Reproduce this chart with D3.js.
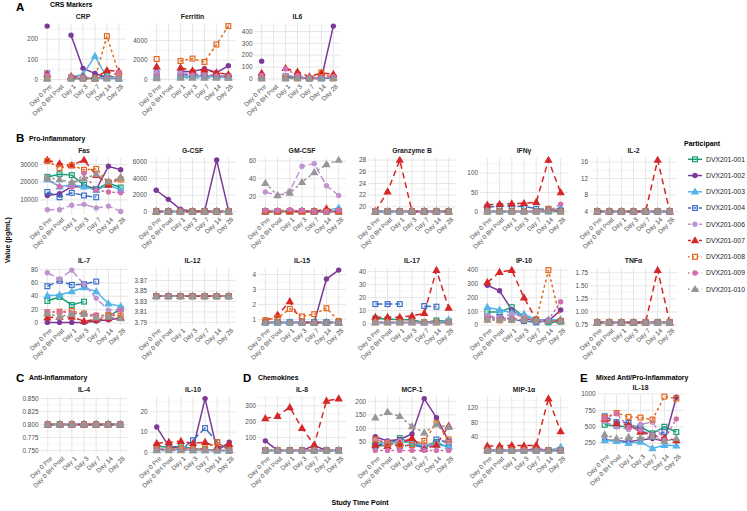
<!DOCTYPE html>
<html><head><meta charset="utf-8">
<script src="https://cdn.jsdelivr.net/npm/d3@7"></script>
<style>body{margin:0;background:#fff;} svg{display:block;font-family:"Liberation Sans",Arial,Helvetica,sans-serif;}</style>
</head><body><svg id="c" width="747" height="511"></svg>
<script>
const N = null;
const timepoints = ["Day 0 Pre","Day 0 8H Post","Day 1","Day 3","Day 7","Day 14","Day 28"];
const participants = ["DVX201-001","DVX201-002","DVX201-003","DVX201-004","DVX201-006","DVX201-007","DVX201-008","DVX201-009","DVX201-010"];

// values: one row per participant (order as above), one column per time point
const crp = [
 [5,N,5,5,5,20,5],[265,N,220,55,30,8,8],[5,N,12,25,115,10,5],[30,N,5,5,5,5,5],[30,N,10,10,8,8,8],
 [25,N,15,12,5,45,40],[5,N,10,5,5,215,30],[20,N,15,10,5,10,35],[5,N,5,5,5,5,5]];
const ferritin = [
 [200,N,250,300,350,300,200],[800,N,800,800,1100,700,1400],[300,N,300,300,300,250,200],[600,N,500,500,500,400,300],[700,N,700,600,500,400,300],
 [1300,N,1200,900,1000,700,500],[2100,N,1900,2150,1800,3600,5500],[400,N,400,450,400,350,300],[100,N,150,150,150,150,150]];
const il6 = [
 [10,N,10,10,5,10,10],[150,N,30,10,5,5,445],[20,N,20,15,10,10,10],[20,N,25,15,5,5,10],[30,N,30,20,10,10,20],
 [50,N,90,60,20,50,40],[5,N,5,5,5,55,5],[30,N,85,30,10,10,20],[5,N,5,5,5,5,5]];
const fas = [
 [23000,24500,24000,18500,16000,19500,17000],[12500,13500,17500,17500,16000,29000,27000],[21500,17500,18500,17500,15500,18500,15500],
 [14500,11500,14000,12500,11500,N,N],[4500,4500,7000,7500,5500,6500,3500],[32500,30500,29500,32500,24000,18500,22500],
 [32000,28000,29500,27000,27500,20000,21500],[22000,17500,17500,25000,15500,14500,14000],[22500,21500,20000,22000,24500,20500,22500]];
const gcsf = [
 [40,40,40,40,40,40,40],[2600,1500,300,50,50,6250,50],[40,40,40,40,40,40,40],[40,40,40,40,40,40,40],[40,40,40,40,40,40,40],
 [40,40,40,40,40,40,40],[40,40,40,40,40,40,40],[40,40,40,40,40,40,40],[40,40,40,40,40,40,40]];
const gmcsf = [
 [3,3,3,3,3,3,3],[3,3,3,3,3,3,3],[3,3,3,4,3,4,7],[3,3,3,3,3,3,3],[25,21,26,54,57,32,21],
 [3,3,3,3,3,6,3],[3,3,3,3,3,3,3],[4,4,5,4,3,3,4],[35,21,24,36,47,56,61]];
const granzymeB = [
 [19.2,19.2,19.2,19.2,19.2,19.2,19.2],[19.2,19.2,19.2,19.2,19.2,19.2,19.2],[19.2,19.2,19.2,19.2,19.2,19.2,19.2],
 [19.2,19.2,19.2,19.2,19.2,19.2,19.2],[19.2,19.2,19.2,19.2,19.2,19.2,19.2],[19.2,22.6,28,19.2,19.2,19.2,19.2],
 [19.2,19.2,19.2,19.2,19.2,19.2,19.2],[19.2,19.2,19.2,19.2,19.2,19.2,19.2],[19.2,19.2,19.2,19.2,19.2,19.2,19.2]];
const ifng = [
 [1,1,1,1,1,1,1],[1,1,1,1,1,1,3],[1,1,1,1,1,3,10],[12,15,15,14,8,6,3],[1,1,1,1,1,1,1],
 [18,20,21,22,25,134,50],[1,1,1,1,1,8,1],[1,1,1,1,1,1,20],[1,1,1,1,1,1,1]];
const il2 = [
 [4,4,4,4,4,4,4],[4,4,4,4,4,4,4],[4,4,4,4,4,4,4],[4,4,4,4,4,4,4],[4,4,4,4,4,4,4],
 [4,4,4,4,4,16.5,4],[4,4,4,4,4,4,4],[4,4,4,4,4,4,4],[4,4,4,4,4,4,4]];
const il7 = [
 [33,39,27,32,N,10,21],[1,1,1,1,3,5,7],[41,42,47,53,47,29,25],[55,63,57,58,62,N,N],[75,66,79,58,37,19,20],
 [8,9,9,3,5,7,8],[16,17,18,14,11,12,11],[17,17,15,14,12,10,19],[14,10,13,14,8,9,7]];
const il12 = [
 [3.84,3.84,3.84,3.84,3.84,3.84,3.84],[3.84,3.84,3.84,3.84,3.84,3.84,3.84],[3.84,3.84,3.84,3.84,3.84,3.84,3.84],
 [3.84,3.84,3.84,3.84,3.84,3.84,3.84],[3.84,3.84,3.84,3.84,3.84,3.84,3.84],[3.84,3.84,3.84,3.84,3.84,3.84,3.84],
 [3.84,3.84,3.84,3.84,3.84,3.84,3.84],[3.84,3.84,3.84,3.84,3.84,3.84,3.84],[3.84,3.84,3.84,3.84,3.84,3.84,3.84]];
const il15 = [
 [0.8,0.8,0.8,0.8,0.8,0.8,0.8],[0.8,0.8,0.8,0.8,0.8,3.7,4.3],[0.8,0.8,0.8,0.8,0.8,0.8,0.8],[0.8,0.8,0.8,0.8,0.8,0.8,0.8],
 [0.8,0.8,0.8,0.8,0.8,0.8,0.8],[0.9,1.3,2.2,0.8,0.8,0.8,0.8],[0.95,1.1,1.7,1.2,1.35,1.75,0.9],[0.8,0.8,0.8,0.8,0.8,0.8,0.8],
 [0.8,0.8,0.8,0.8,0.8,0.8,0.8]];
const il17 = [
 [4,3.5,3,3,1,2.5,2],[1,1,1,1,1,1,1],[1,1,1,1,1,1,3],[15,15,15,N,13.5,13,N],[1,1,1,1,1,1,1],
 [5,5,5,6,8,41,12],[1,1,1,1,1,1,1],[1,1,1,1,1,1,1],[1,1,1,1,1,1,1]];
const ip10 = [
 [95,95,130,60,40,20,25],[290,250,110,50,30,30,110],[130,110,90,80,40,40,40],[60,60,40,30,20,30,30],[70,55,80,60,30,30,30],
 [310,385,400,200,40,30,30],[40,35,40,40,40,400,30],[50,50,50,40,30,40,170],[40,40,40,40,30,30,30]];
const tnfa = [
 [0.8,0.8,0.8,0.8,0.8,0.8,0.8],[0.8,0.8,0.8,0.8,0.8,0.8,0.8],[0.8,0.8,0.8,0.8,0.8,0.8,0.8],[0.8,0.8,0.8,0.8,0.8,0.8,0.8],
 [0.8,0.8,0.8,0.8,0.8,0.8,0.8],[0.8,0.8,0.8,0.8,0.8,1.8,0.8],[0.8,0.8,0.8,0.8,0.8,0.8,0.8],[0.8,0.8,0.8,0.8,0.8,0.8,0.8],
 [0.8,0.8,0.8,0.8,0.8,0.8,0.8]];
const il4 = [
 [0.8,0.8,0.8,0.8,0.8,0.8,0.8],[0.8,0.8,0.8,0.8,0.8,0.8,0.8],[0.8,0.8,0.8,0.8,0.8,0.8,0.8],[0.8,0.8,0.8,0.8,0.8,0.8,0.8],
 [0.8,0.8,0.8,0.8,0.8,0.8,0.8],[0.8,0.8,0.8,0.8,0.8,0.8,0.8],[0.8,0.8,0.8,0.8,0.8,0.8,0.8],[0.8,0.8,0.8,0.8,0.8,0.8,0.8],
 [0.8,0.8,0.8,0.8,0.8,0.8,0.8]];
const il10 = [
 [3,2.5,3,2,1.5,1,1],[12.5,3,2,2,26.5,1,5],[1.5,1.5,1.5,1,1,1,1],[1.5,1.5,1.5,6,12,5,1],[2,2,2,2,1,1,1],
 [4.5,5,5.5,4.5,5,2.5,4],[1.5,1.5,2,1.5,2,5,1],[1,1,1,1,1,1,1],[1,1,1,1,1,1,1]];
const il8 = [
 [20,20,20,20,20,20,20],[80,20,20,20,50,20,20],[20,20,20,20,20,20,20],[20,20,20,20,20,20,20],[20,20,20,20,20,20,20],
 [220,235,290,160,55,330,345],[20,20,20,20,20,20,20],[20,20,20,20,20,20,20],[20,20,20,20,20,20,20]];
const mcp1 = [
 [35,40,65,45,35,50,30],[70,55,60,80,210,140,55],[50,45,50,50,35,40,35],[40,45,35,40,30,60,50],[60,50,55,60,40,45,50],
 [40,35,45,65,25,40,110],[60,45,40,40,55,120,60],[20,20,20,20,20,20,20],[140,160,145,108,85,115,105]];
const mip1a = [
 [3,3,3,3,3,3,3],[3,3,3,3,8,3,3],[3,3,3,3,3,3,12],[3,3,3,3,3,3,3],[3,3,3,3,3,3,3],
 [15,15,17,16,17,145,55],[3,3,3,3,3,3,3],[3,3,3,3,3,3,3],[3,3,3,3,3,3,3]];
const il18 = [
 [530,510,500,500,400,500,420],[300,290,270,300,320,280,950],[290,280,250,270,170,220,210],[660,570,560,450,350,420,N],
 [580,500,460,540,570,300,N],[620,550,530,420,370,330,290],[640,710,650,640,610,960,930],[630,700,490,450,380,300,620],
 [380,320,340,330,350,280,320]];

// tick values per panel
const crpTicks = [0,100,200];
const ferritinTicks = [0,2000,4000];
const il6Ticks = [0,100,200,300,400];
const fasTicks = [10000,20000,30000];
const gcsfTicks = [0,2000,4000,6000];
const gmcsfTicks = [20,40,60];
const granzymeTicks = [20,22,24,26,28];
const ifngTicks = [0,50,100];
const il2Ticks = [4,8,12,16];
const il7Ticks = [0,20,40,60,80];
const il12Ticks = [3.79,3.81,3.83,3.85,3.87];
const il15Ticks = [1,2,3,4];
const il17Ticks = [0,10,20,30,40];
const ip10Ticks = [0,100,200,300,400];
const tnfaTicks = [0.75,1.00,1.25,1.50,1.75];
const il4Ticks = [0.750,0.775,0.800,0.825,0.850];
const il10Ticks = [0,10,20];
const il8Ticks = [100,200,300];
const mcp1Ticks = [50,100,150,200];
const mip1aTicks = [40,80,120];
const il18Ticks = [250,500,750,1000];

// ---------- styles / layout ----------
const colors = ["#1B9E77","#7B3A98","#56B4E9","#3C6FC6","#BF94CF","#D62728","#E6661A","#D36FAE","#969696"];
const shapes = ["osquare","circle","triangle","osquare","circle","triangle","osquare","circle","triangle"];
const dashes = [null,null,null,"7,3","7,3","6,4","1.5,4","1.5,4","1.5,4"];

const rowY = {A:[23.5,81], B1:[157.5,214], B2:[267.5,325], C:[396,453], E:[394,451]};
const panels = [
 {title:"CRP", data:crp, ticks:crpTicks, row:"A", x:[40,126]},
 {title:"Ferritin", data:ferritin, ticks:ferritinTicks, row:"A", x:[149.5,235.5]},
 {title:"IL6", data:il6, ticks:il6Ticks, row:"A", x:[254.5,340.5]},
 {title:"Fas", data:fas, ticks:fasTicks, row:"B1", x:[40,128]},
 {title:"G-CSF", data:gcsf, ticks:gcsfTicks, row:"B1", x:[149,236]},
 {title:"GM-CSF", data:gmcsf, ticks:gmcsfTicks, row:"B1", x:[258,346]},
 {title:"Granzyme B", data:granzymeB, ticks:granzymeTicks, row:"B1", x:[368,456]},
 {title:"IFNγ", data:ifng, ticks:ifngTicks, row:"B1", x:[480,568]},
 {title:"IL-2", data:il2, ticks:il2Ticks, row:"B1", x:[590,677]},
 {title:"IL-7", data:il7, ticks:il7Ticks, row:"B2", x:[40,128]},
 {title:"IL-12", data:il12, ticks:il12Ticks, row:"B2", x:[149,236], fmt:".2f"},
 {title:"IL-15", data:il15, ticks:il15Ticks, row:"B2", x:[258,346]},
 {title:"IL-17", data:il17, ticks:il17Ticks, row:"B2", x:[368,456]},
 {title:"IP-10", data:ip10, ticks:ip10Ticks, row:"B2", x:[480,568]},
 {title:"TNFα", data:tnfa, ticks:tnfaTicks, row:"B2", x:[590,677], fmt:".2f"},
 {title:"IL-4", data:il4, ticks:il4Ticks, row:"C", x:[40.5,127.5], fmt:".3f"},
 {title:"IL-10", data:il10, ticks:il10Ticks, row:"C", x:[149.5,236.5]},
 {title:"IL-8", data:il8, ticks:il8Ticks, row:"C", x:[258,346]},
 {title:"MCP-1", data:mcp1, ticks:mcp1Ticks, row:"C", x:[368,456]},
 {title:"MIP-1α", data:mip1a, ticks:mip1aTicks, row:"C", x:[480,568]},
 {title:"IL-18", data:il18, ticks:il18Ticks, row:"E", x:[597.5,683.5]}
];
const sections = [
 {letter:"A", lx:16, ly:10.5, text:"CRS Markers", tx:50, ty:7},
 {letter:"B", lx:16, ly:142, text:"Pro-Inflammatory", tx:29, ty:141},
 {letter:"C", lx:16, ly:381.5, text:"Anti-Inflammatory", tx:29, ty:380},
 {letter:"D", lx:243, ly:381.5, text:"Chemokines", tx:258, ty:380},
 {letter:"E", lx:580, ly:381.5, text:"Mixed Anti/Pro-Inflammatory", tx:596, ty:380}
];

const svg = d3.select("#c");
const TICK_COL = "#4D4D4D";

function drawMarker(g, shape, color, x, y) {
  if (shape === "circle") {
    g.append("circle").attr("cx",x).attr("cy",y).attr("r",2.7).attr("fill",color);
  } else if (shape === "triangle") {
    g.append("path").attr("d", d3.symbol().type(d3.symbolTriangle).size(30)())
      .attr("transform",`translate(${x},${y+0.4})`).attr("fill",color);
  } else {
    g.append("rect").attr("x",x-2.4).attr("y",y-2.4).attr("width",4.8).attr("height",4.8)
      .attr("fill","none").attr("stroke",color).attr("stroke-width",1.2);
  }
}

panels.forEach(p => {
  const [y0,y1] = rowY[p.row];
  const g = svg.append("g");
  const xs = d3.scalePoint().domain(timepoints).range([p.x[0],p.x[1]]).padding(0.6);
  const all = p.data.flat().filter(v => v != null);
  let lo = d3.min(all), hi = d3.max(all);
  if (hi - lo < 1e-9) { lo -= 0.05; hi += 0.05; }
  const pad = (hi - lo) * 0.05;
  const ys = d3.scaleLinear().domain([lo - pad, hi + pad]).range([y1, y0]);
  const [dlo, dhi] = ys.domain();

  // minor grid
  const t = p.ticks, step = t[1] - t[0];
  const minors = [];
  for (let i = -1; i < t.length; i++) {
    const m = t[0] + (i + 0.5) * step;
    if (m >= dlo && m <= dhi) minors.push(m);
  }
  g.selectAll(".mn").data(minors).join("line")
    .attr("x1",p.x[0]).attr("x2",p.x[1]).attr("y1",d=>ys(d)).attr("y2",d=>ys(d))
    .attr("stroke","#F0F0F0").attr("stroke-width",0.6);
  // major grid
  g.selectAll(".mj").data(t).join("line")
    .attr("x1",p.x[0]).attr("x2",p.x[1]).attr("y1",d=>ys(d)).attr("y2",d=>ys(d))
    .attr("stroke","#E6E6E6").attr("stroke-width",1);
  g.selectAll(".vx").data(timepoints).join("line")
    .attr("x1",d=>xs(d)).attr("x2",d=>xs(d)).attr("y1",y0).attr("y2",y1)
    .attr("stroke","#E6E6E6").attr("stroke-width",1);

  // y tick labels
  const fmt = p.fmt ? d3.format(p.fmt) : (v => String(v));
  g.selectAll(".yl").data(t).join("text")
    .attr("x",p.x[0]-2).attr("y",d=>ys(d)).attr("dy","0.35em")
    .attr("text-anchor","end").attr("font-size",6.4).attr("fill",TICK_COL).text(fmt);
  // x tick labels
  g.selectAll(".xl").data(timepoints).join("text")
    .attr("transform",d=>`translate(${xs(d)+2.5},${y1+3.5}) rotate(-45)`)
    .attr("dy","0.55em").attr("text-anchor","end").attr("font-size",6.4).attr("fill",TICK_COL).text(d=>d);
  // title
  g.append("text").attr("x",(p.x[0]+p.x[1])/2).attr("y",y0-4.5).attr("text-anchor","middle")
    .attr("font-size",6.8).attr("font-weight","bold").attr("fill","#1a1a1a").text(p.title);

  // lines
  const line = d3.line().defined(d => d.v != null).x(d => xs(d.t)).y(d => ys(d.v));
  p.data.forEach((row, i) => {
    const pts = row.map((v, j) => ({t: timepoints[j], v}));
    g.append("path").attr("d", line(pts)).attr("fill","none").attr("stroke",colors[i])
      .attr("stroke-width",1.5).attr("stroke-dasharray",dashes[i]).attr("stroke-linecap", dashes[i] && dashes[i].startsWith("1.5") ? "round" : "butt");
  });
  // points
  p.data.forEach((row, i) => {
    row.forEach((v, j) => { if (v != null) drawMarker(g, shapes[i], colors[i], xs(timepoints[j]), ys(v)); });
  });
});

// section labels
sections.forEach(s => {
  svg.append("text").attr("x",s.lx).attr("y",s.ly).attr("font-size",11.5).attr("font-weight","bold").attr("fill","#000").text(s.letter);
  svg.append("text").attr("x",s.tx).attr("y",s.ty).attr("font-size",6.8).attr("font-weight","bold").attr("fill","#000").text(s.text);
});

// axis titles
svg.append("text").attr("transform","translate(10,240) rotate(-90)").attr("text-anchor","middle")
  .attr("font-size",7).attr("font-weight","bold").text("Value (pg/mL)");
svg.append("text").attr("x",360).attr("y",505).attr("text-anchor","middle")
  .attr("font-size",7).attr("font-weight","bold").text("Study Time Point");

// legend
const lg = svg.append("g");
lg.append("text").attr("x",684).attr("y",146).attr("font-size",7).attr("font-weight","bold").text("Participant");
participants.forEach((p, i) => {
  const y = 159.3 + i * 16.25;
  lg.append("line").attr("x1",688).attr("x2",702).attr("y1",y).attr("y2",y).attr("stroke",colors[i])
    .attr("stroke-width",1.5).attr("stroke-dasharray", dashes[i] ? (dashes[i].startsWith("1.5") ? "1.5,3" : "3,2.5") : null);
  drawMarker(lg, shapes[i], colors[i], 695, y);
  lg.append("text").attr("x",706).attr("y",y).attr("dy","0.35em").attr("font-size",6.8).attr("fill","#1a1a1a").text(p);
});
</script>
</body></html>
